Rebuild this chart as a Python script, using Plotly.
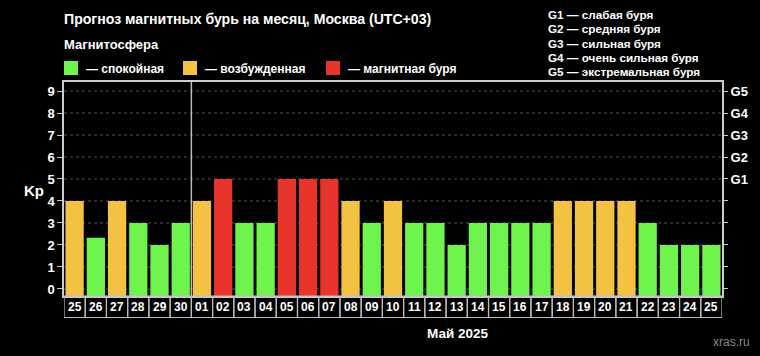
import plotly.graph_objects as go

# ---- data ----
days = ["25", "26", "27", "28", "29", "30", "01", "02", "03", "04", "05", "06", "07", "08", "09",
        "10", "11", "12", "13", "14", "15", "16", "17", "18", "19", "20", "21", "22", "23", "24", "25"]
kp = [4, 2.33, 4, 3, 2, 3, 4, 5, 3, 3, 5, 5, 5, 4, 3, 4, 3, 3, 2, 3, 3, 3, 3, 4, 4, 4, 4, 3, 2, 2, 2]
status = ["y", "g", "y", "g", "g", "g", "y", "r", "g", "g", "r", "r", "r", "y", "g", "y", "g", "g",
          "g", "g", "g", "g", "g", "y", "y", "y", "y", "g", "g", "g", "g"]
legend_labels = ["— спокойная", "— возбужденная", "— магнитная буря"]
g_scale_labels = ["G1 — слабая буря", "G2 — средняя буря", "G3 — сильная буря",
                  "G4 — очень сильная буря", "G5 — экстремальная буря"]
y_ticks = list(range(10))
g_ticktext = ["", "", "", "", "", "G1", "G2", "G3", "G4", "G5"]
month_split = 6  # index of first May day

COL = {"g": "#6ef44c", "y": "#f4c243", "r": "#e8342a"}
W, H = 760, 356
L, R, T, B = 64, 38, 82, 60
PW, PH = W - L - R, H - T - B
YMIN, YMAX = -0.32, 9.41
FONT = "Liberation Sans, Arial, sans-serif"


def px(x):
    return (x - L) / PW


def py(y):
    return (H - B - y) / PH


n = len(days)
xs = list(range(n))

fig = go.Figure()
fig.add_trace(go.Bar(
    x=xs, y=[v - YMIN for v in kp], base=YMIN,
    marker=dict(color=[COL[s] for s in status], line=dict(width=0)),
    width=0.86, hoverinfo="skip", showlegend=False,
))
# invisible trace to activate right axis
fig.add_trace(go.Scatter(x=[0], y=[0], yaxis="y2", mode="markers",
                         marker=dict(opacity=0), showlegend=False, hoverinfo="skip"))

shapes = []
# horizontal dotted grid
for t in y_ticks:
    shapes.append(dict(type="line", xref="paper", yref="y", x0=0, x1=1, y0=t, y1=t,
                       line=dict(color="#555555", width=1, dash="dot"), layer="below"))
# month divider
shapes.append(dict(type="line", xref="x", yref="paper", x0=month_split - 0.5, x1=month_split - 0.5,
                   y0=0, y1=1, line=dict(color="#bbbbbb", width=1.5)))
# day label boxes
for i in xs:
    shapes.append(dict(type="rect", xref="x", yref="paper", x0=i - 0.5, x1=i + 0.5,
                       y0=py(317.5), y1=0, line=dict(color="#bbbbbb", width=1.2)))

annotations = []
# day labels
for i, d in enumerate(days):
    annotations.append(dict(x=i, y=py(307), xref="x", yref="paper", text=d, showarrow=False,
                            font=dict(color="white", size=12, family=FONT, weight="bold"),
                            xanchor="center", yanchor="middle"))

# titles
annotations.append(dict(x=px(62), y=py(19), xref="paper", yref="paper", showarrow=False,
                        text="Прогноз магнитных бурь на месяц, Москва (UTC+03)",
                        font=dict(color="white", size=14.1, family=FONT, weight="bold"),
                        xanchor="left", yanchor="middle"))
annotations.append(dict(x=px(62), y=py(45), xref="paper", yref="paper", showarrow=False,
                        text="Магнитосфера",
                        font=dict(color="white", size=13, family=FONT, weight="bold"),
                        xanchor="left", yanchor="middle"))
# legend
leg_sq_x = [64, 183, 326]
for sx, lab, c in zip(leg_sq_x, legend_labels, ["g", "y", "r"]):
    shapes.append(dict(type="rect", xref="paper", yref="paper", x0=px(sx), x1=px(sx + 14),
                       y0=py(75), y1=py(61), fillcolor=COL[c], line=dict(width=0)))
    annotations.append(dict(x=px(sx + 20), y=py(68.5), xref="paper", yref="paper", showarrow=False,
                            text=lab, font=dict(color="white", size=12, family=FONT, weight="bold"),
                            xanchor="left", yanchor="middle"))
# G scale
for k, lab in enumerate(g_scale_labels):
    annotations.append(dict(x=px(546), y=py(14.5 + k * 14.3), xref="paper", yref="paper",
                            showarrow=False, text=lab,
                            font=dict(color="white", size=11.7, family=FONT, weight="bold"),
                            xanchor="left", yanchor="middle"))
# axis title, month, source
annotations.append(dict(x=px(34), y=py(190), xref="paper", yref="paper", showarrow=False,
                        text="Kp", font=dict(color="white", size=15, family=FONT, weight="bold"),
                        xanchor="center", yanchor="middle"))
annotations.append(dict(x=px(457), y=py(333), xref="paper", yref="paper", showarrow=False,
                        text="Май 2025", font=dict(color="white", size=13.5, family=FONT, weight="bold"),
                        xanchor="center", yanchor="middle"))
annotations.append(dict(x=px(752), y=py(342), xref="paper", yref="paper", showarrow=False,
                        text="xras.ru", font=dict(color="#8a8a8a", size=12, family=FONT),
                        xanchor="right", yanchor="middle"))

fig.update_layout(
    width=W, height=H, margin=dict(l=L, r=R, t=T, b=B),
    paper_bgcolor="black", plot_bgcolor="black",
    bargap=0.13,
    xaxis=dict(range=[-0.5, n - 0.5], showticklabels=False, ticks="", showgrid=False,
               zeroline=False, showline=True, linecolor="#cccccc", linewidth=1.5, mirror=True),
    yaxis=dict(range=[YMIN, YMAX], tickvals=y_ticks, ticktext=[str(t) for t in y_ticks],
               showgrid=False, zeroline=False, ticks="outside", ticklen=5, tickcolor="#cccccc",
               tickwidth=1.2, tickfont=dict(color="white", size=13, family=FONT, weight="bold"),
               showline=True, linecolor="#cccccc", linewidth=1.5, mirror=True),
    yaxis2=dict(range=[YMIN, YMAX], overlaying="y", side="right", tickvals=y_ticks,
                ticktext=g_ticktext, showgrid=False, zeroline=False, ticks="outside", ticklen=5,
                tickcolor="#cccccc", tickwidth=1.2,
                tickfont=dict(color="white", size=13, family=FONT, weight="bold"),
                showline=False),
    shapes=shapes, annotations=annotations,
    font=dict(family=FONT, color="white"),
)

fig.write_html("out.html")
